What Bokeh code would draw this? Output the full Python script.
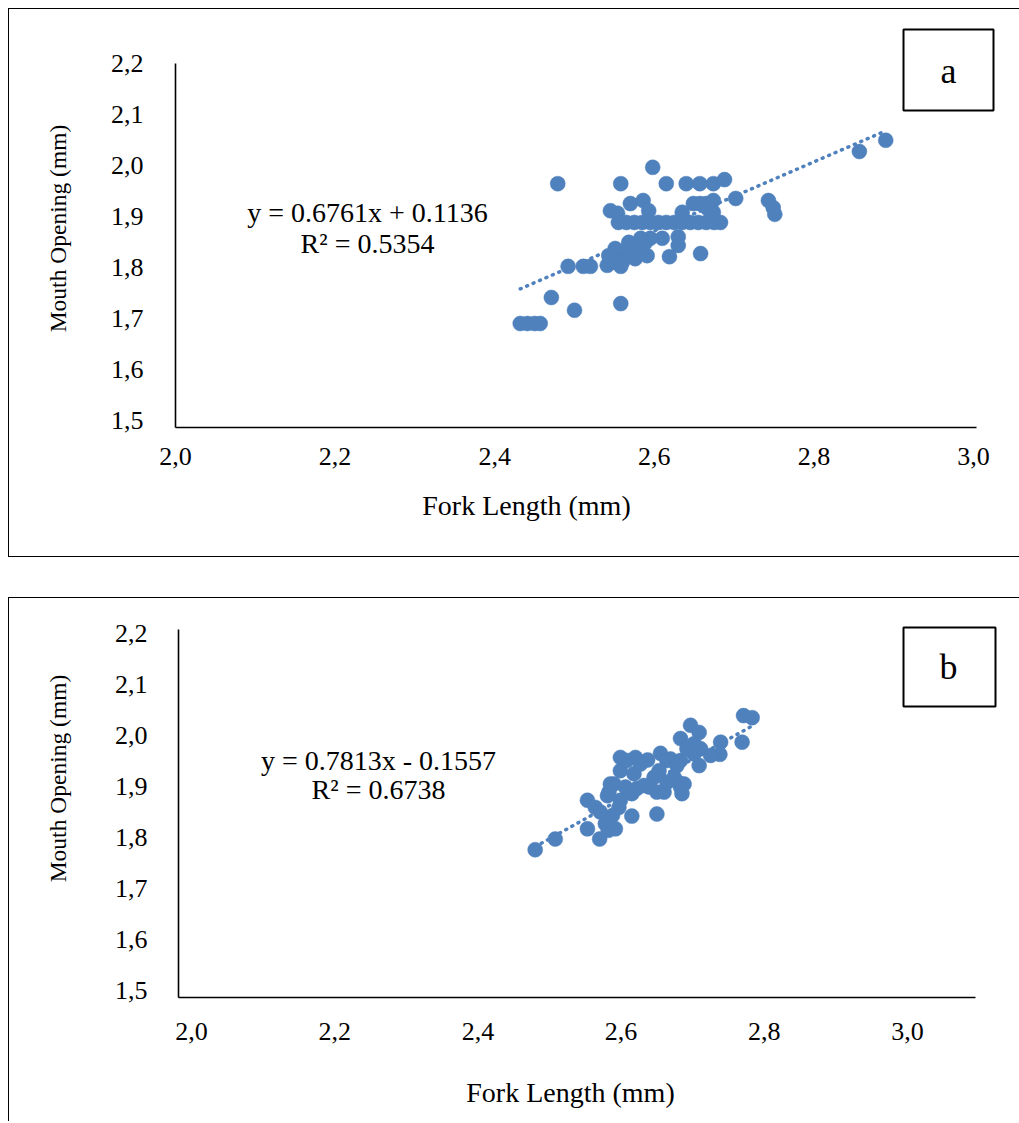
import numpy as np
from bokeh.plotting import figure
from bokeh.models import (CustomJSTickFormatter, FixedTicker, Label, BoxAnnotation,
                          Range1d, LinearAxis)
from bokeh.layouts import column
from bokeh.embed import file_html
from bokeh.resources import INLINE

# ---------------- data ----------------
x_ticks = [2.0, 2.2, 2.4, 2.6, 2.8, 3.0]
y_ticks = [1.5, 1.6, 1.7, 1.8, 1.9, 2.0, 2.1, 2.2]
x_title = "Fork Length (mm)"
y_title = "Mouth Opening (mm)"

# panel a
fl_a = [2.432, 2.441, 2.450, 2.457, 2.471, 2.500, 2.558, 2.479, 2.492, 2.511,
        2.520, 2.541, 2.558, 2.598, 2.558, 2.615, 2.640, 2.657, 2.674, 2.688,
        2.702, 2.657, 2.665, 2.674, 2.545, 2.554, 2.570, 2.586,
        2.555, 2.565, 2.575, 2.585, 2.595, 2.605, 2.615, 2.625, 2.635, 2.645,
        2.655, 2.665, 2.675, 2.683,
        2.635, 2.674, 2.610, 2.630, 2.630, 2.658, 2.619,
        2.548, 2.555, 2.564, 2.573, 2.580, 2.589, 2.595, 2.551, 2.568, 2.583,
        2.560, 2.576, 2.591, 2.543,
        2.857, 2.890, 2.743, 2.749, 2.751, 2.593, 2.649, 2.667]
mo_a = [1.690, 1.690, 1.690, 1.690, 1.741, 1.716, 1.729, 1.964, 1.802, 1.802,
        1.802, 1.804, 1.802, 1.996, 1.964, 1.964, 1.964, 1.964, 1.964, 1.972,
        1.935, 1.925, 1.925, 1.931, 1.911, 1.906, 1.925, 1.931,
        1.888, 1.888, 1.888, 1.888, 1.888, 1.888, 1.888, 1.888, 1.888, 1.888,
        1.888, 1.888, 1.888, 1.888,
        1.908, 1.908, 1.857, 1.860, 1.843, 1.827, 1.821,
        1.810, 1.821, 1.829, 1.837, 1.843, 1.849, 1.857, 1.837, 1.849, 1.857,
        1.810, 1.817, 1.823, 1.823,
        2.027, 2.049, 1.931, 1.917, 1.904, 1.911, 1.925, 1.915]
slope_a, intercept_a = 0.6761, 0.1136
eq_a = ["y = 0.6761x + 0.1136", "R² = 0.5354"]

# panel b
fl_b = [2.480, 2.508, 2.553, 2.570, 2.553, 2.564, 2.571, 2.588, 2.578, 2.592,
        2.582, 2.615, 2.650, 2.599, 2.583, 2.590, 2.599, 2.599, 2.620, 2.637,
        2.655, 2.606, 2.615, 2.622, 2.632, 2.618, 2.646, 2.653, 2.660, 2.664,
        2.674, 2.683, 2.685, 2.688, 2.669, 2.683, 2.709, 2.683, 2.697, 2.709,
        2.702, 2.711, 2.702, 2.739, 2.738, 2.725, 2.769, 2.771, 2.783,
        2.608, 2.627, 2.585, 2.639, 2.650, 2.680, 2.664, 2.678, 2.692, 2.597,
        2.581]
mo_b = [1.776, 1.797, 1.817, 1.797, 1.873, 1.859, 1.850, 1.843, 1.827, 1.817,
        1.814, 1.842, 1.846, 1.873, 1.889, 1.905, 1.931, 1.957, 1.957, 1.952,
        1.965, 1.899, 1.886, 1.896, 1.902, 1.925, 1.918, 1.931, 1.889, 1.908,
        1.918, 1.899, 1.886, 1.905, 1.954, 1.951, 1.941, 1.994, 2.020, 2.006,
        1.984, 1.974, 1.964, 1.987, 1.963, 1.961, 1.987, 2.039, 2.035,
        1.951, 1.944, 1.905, 1.899, 1.889, 1.908, 1.951, 1.941, 1.974, 1.859,
        1.882]
slope_b, intercept_b = 0.7813, -0.1557
eq_b = ["y = 0.7813x - 0.1557", "R² = 0.6738"]

BLUE = "#4F81BD"
SERIF = "Liberation Serif"

fmt = CustomJSTickFormatter(code="return tick.toFixed(1).replace('.', ',');")


def panel(fl, mo, slope, intercept, eq, tag, geo, styles):
    # geo: canvas origin/size in page pixels and the pixel<->value calibration
    ox, oy, W, H = geo["canvas"]
    X0, kx = geo["xcal"]      # pixel of x=2.0, px per unit
    Y0, ky = geo["ycal"]      # pixel of y=1.5, px per unit

    def dx(px):
        return 2.0 + (px - X0) / kx

    def dy(py):
        return 1.5 + (Y0 - py) / ky

    p = figure(width=W, height=H,
               x_range=Range1d(dx(ox), dx(ox + W)),
               y_range=Range1d(dy(oy + H), dy(oy)),
               output_backend="svg", toolbar_location=None,
               x_axis_location=None, y_axis_location=None,
               min_border_left=0, min_border_right=0,
               min_border_top=0, min_border_bottom=0)
    p.title.visible = False
    p.styles = styles
    p.outline_line_color = None
    p.grid.visible = False
    p.background_fill_color = "white"
    p.border_fill_color = "white"

    ax_x0, ax_x1, ax_y0, ax_y1 = geo["axes"]   # page pixels of axis lines
    xa = LinearAxis(fixed_location=dy(ax_y0), bounds=(dx(ax_x0), dx(ax_x1)))
    ya = LinearAxis(fixed_location=dx(ax_x0), bounds=(dy(ax_y0), dy(ax_y1)))
    for ax in (xa, ya):
        ax.formatter = fmt
        ax.axis_line_color = "black"
        ax.axis_line_width = 1.6
        ax.major_tick_line_color = None
        ax.minor_tick_line_color = None
        ax.major_label_text_font = SERIF
        ax.major_label_text_font_size = "26px"
        ax.major_label_text_color = "black"
    xa.ticker = FixedTicker(ticks=x_ticks)
    ya.ticker = FixedTicker(ticks=y_ticks)
    xa.major_label_standoff = geo["xstd"]
    ya.major_label_standoff = geo["ystd"]
    p.add_layout(xa, "below")
    p.add_layout(ya, "left")

    xs = np.array([min(fl), max(fl)])
    p.line(xs, slope * xs + intercept, line_color=BLUE, line_width=3.5,
           line_dash="1 6", line_cap="round")
    p.scatter(fl, mo, size=15, fill_color=BLUE, line_color=BLUE, line_width=0.5)

    ex, ey1, ey2 = geo["eq"]
    for txt, yy in ((eq[0], ey1), (eq[1], ey2)):
        p.add_layout(Label(x=dx(ex), y=dy(yy), text=txt, text_align="center",
                           text_baseline="middle", text_font=SERIF,
                           text_font_size="28px", text_color="black"))
    tx, ty = geo["xtitle"]
    p.add_layout(Label(x=dx(tx), y=dy(ty), text=x_title, text_align="center",
                       text_baseline="middle", text_font=SERIF,
                       text_font_size="28px", text_color="black"))
    tx, ty = geo["ytitle"]
    p.add_layout(Label(x=dx(tx), y=dy(ty), text=y_title, text_align="center",
                       text_baseline="middle", text_font=SERIF, angle=np.pi / 2,
                       text_font_size="23.5px", text_color="black"))
    bl, bt, br, bb = geo["box"]
    p.add_layout(BoxAnnotation(left=dx(bl), right=dx(br), bottom=dy(bb), top=dy(bt),
                               fill_color="white", fill_alpha=1.0,
                               line_color="black", line_width=2, line_alpha=1.0))
    lx, ly = geo["tag"]
    p.add_layout(Label(x=dx(lx), y=dy(ly), text=tag, text_align="center",
                       text_baseline="middle", text_font=SERIF,
                       text_font_size="36px", text_color="black"))
    return p


geo_a = dict(canvas=(9, 9, 1011, 549), xcal=(175, 798), ycal=(420, 510.4),
             axes=(175, 976, 427, 63), xstd=14, ystd=26,
             eq=(367, 212, 243), xtitle=(526, 505), ytitle=(57, 228),
             box=(903, 29, 993, 110), tag=(948, 70))
geo_b = dict(canvas=(9, 598, 1011, 524), xcal=(191, 716), ycal=(990, 510),
             axes=(178, 975, 997, 629), xstd=19, ystd=25,
             eq=(378, 760, 789), xtitle=(570, 1092), ytitle=(57, 778),
             box=(903, 627, 995, 706), tag=(948, 666))

pa = panel(fl_a, mo_a, slope_a, intercept_a, eq_a, "a", geo_a,
           {"border-left": "1px solid black", "border-top": "1px solid black",
            "border-bottom": "1px solid black"})
pb = panel(fl_b, mo_b, slope_b, intercept_b, eq_b, "b", geo_b,
           {"border-left": "1px solid black", "border-top": "1px solid black"})

layout = column(pa, pb, spacing=40, margin=(8, 0, 0, 8))
open("out.html", "w").write(file_html(layout, INLINE))
